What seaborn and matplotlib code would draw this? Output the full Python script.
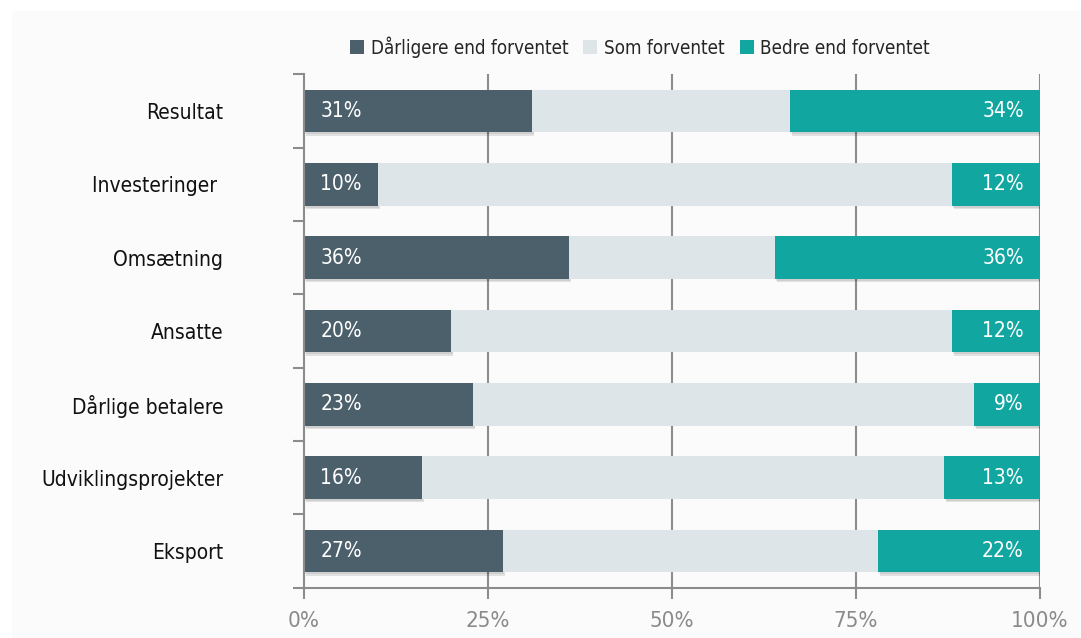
import matplotlib
matplotlib.use("Agg")
import matplotlib.pyplot as plt
import matplotlib.patheffects as pe
from matplotlib.patches import Rectangle, Patch
import numpy as np
import pandas as pd
import seaborn as sns

# Survey results: share of answers per topic
categories = ["Resultat", "Investeringer ", "Omsætning", "Ansatte",
              "Dårlige betalere", "Udviklingsprojekter", "Eksport"]
worse = [31, 10, 36, 20, 23, 16, 27]
as_expected = [35, 78, 28, 68, 68, 71, 51]
better = [34, 12, 36, 12, 9, 13, 22]

series_names = ["Dårligere end forventet", "Som forventet", "Bedre end forventet"]
colors = ["#4c606c", "#dee5e8", "#12a6a0"]
x_ticks = [0, 25, 50, 75, 100]
x_tick_labels = ["0%", "25%", "50%", "75%", "100%"]

sns.set_theme(style="white")
plt.rcParams["font.family"] = ["DejaVu Sans"]
plt.rcParams["font.stretch"] = "condensed"
FONT = dict(family="DejaVu Sans", stretch="condensed")

fig = plt.figure(figsize=(10.81, 6.38), dpi=100)
fig.patch.set_facecolor("white")
fig.patches.append(Rectangle((12 / 1081, 0), 1, 1 - 11 / 638,
                             transform=fig.transFigure, facecolor="#fbfbfb",
                             edgecolor="none", zorder=-5))

ax = fig.add_axes([304 / 1081, 1 - 587.7 / 638, (1040 - 304) / 1081, (587.7 - 74.3) / 638])
ax.set_facecolor("none")
ax.set_zorder(2)

df = pd.DataFrame({"kategori": categories, "worse": worse,
                   "mid": as_expected, "better": better})
starts = [np.zeros(len(df)), df["worse"].to_numpy(),
          (df["worse"] + df["mid"]).to_numpy()]
shadow = [pe.SimplePatchShadow(offset=(1.5, -2.5), shadow_rgbFace="#000000", alpha=0.10),
          pe.SimplePatchShadow(offset=(1.0, -1.5), shadow_rgbFace="#000000", alpha=0.08),
          pe.Normal()]

for col, left, color, name in zip(["worse", "mid", "better"], starts, colors, series_names):
    sns.barplot(data=df, x=col, y="kategori", left=left, color=color,
                width=0.58, orient="y", ax=ax, saturation=1, zorder=3,
                linewidth=0, edgecolor="none", label=name)

for bar in ax.patches:
    if bar.get_facecolor()[:3] != matplotlib.colors.to_rgb(colors[1]):
        bar.set_path_effects(shadow)

# Value labels on the outer segments
for i in range(len(categories)):
    ax.text(starts[0][i] + 2.2, i, f"{worse[i]}%", color="white", fontsize=15,
            ha="left", va="center", zorder=5, **FONT)
    ax.text(100 - 2.2, i, f"{better[i]}%", color="white", fontsize=15,
            ha="right", va="center", zorder=5, **FONT)

ax.set_xlim(0, 100)
ax.set_ylim(6.5, -0.5)
ax.set_xlabel("")
ax.set_ylabel("")
if ax.get_legend() is not None:
    ax.get_legend().remove()

# Gridlines and axes
for v in x_ticks[1:]:
    ax.axvline(v, color="#8c8c8c", lw=1.5, zorder=1)
ax.set_xticks(x_ticks)
ax.set_xticklabels(x_tick_labels, color="#8a8a8a", fontsize=16, **FONT)
ax.tick_params(axis="x", direction="out", length=8, width=1.5, color="#8c8c8c", pad=9,
               bottom=True)
ax.set_yticks(range(len(categories)))
ax.set_yticklabels(categories, color="#111111", fontsize=15, **FONT)
ax.set_yticks(np.arange(-0.5, len(categories) + 0.5, 1), minor=True)
ax.tick_params(axis="y", which="major", length=0, pad=58)
ax.tick_params(axis="y", which="minor", direction="out", length=8, width=1.5,
               color="#8c8c8c", left=True)

for s in ["top", "right"]:
    ax.spines[s].set_visible(False)
for s in ["left", "bottom"]:
    ax.spines[s].set_color("#8c8c8c")
    ax.spines[s].set_linewidth(1.5)
    ax.spines[s].set_zorder(4)

handles = [Patch(facecolor=c, edgecolor="none") for c in colors]
fig.legend(handles, series_names, loc="center", bbox_to_anchor=(640 / 1081, 1 - 47 / 638),
           ncol=3, frameon=False, handlelength=0.75, handleheight=0.75,
           handletextpad=0.35, columnspacing=0.8,
           prop=dict(size=13.5, **FONT))

fig.savefig("out.png", dpi=100)
